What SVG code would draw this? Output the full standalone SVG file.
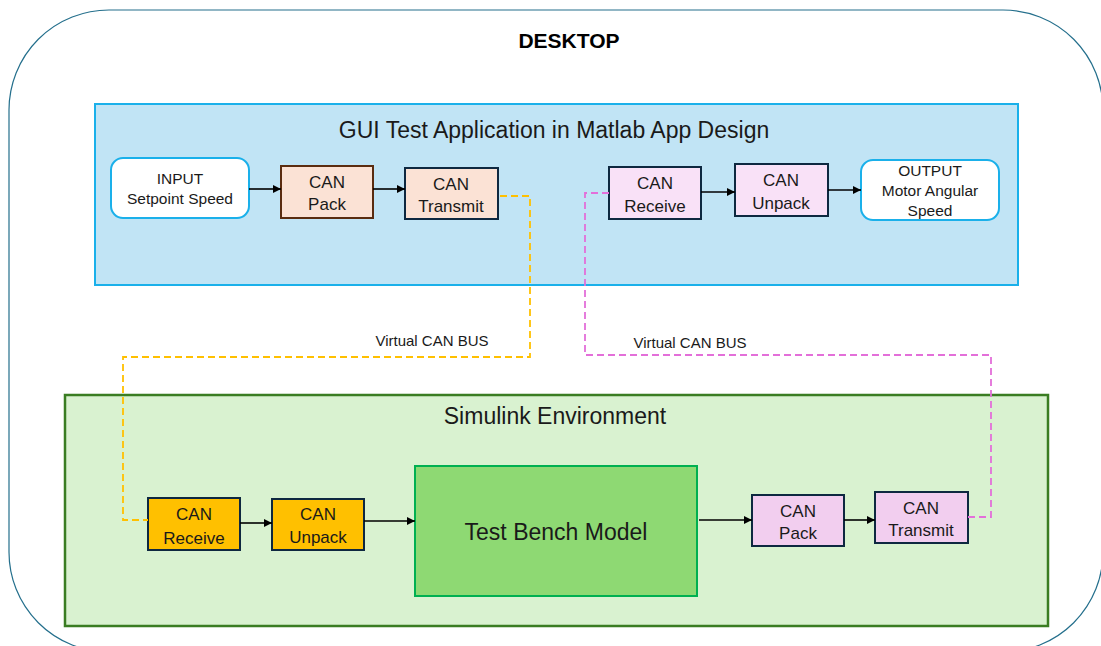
<svg xmlns="http://www.w3.org/2000/svg" width="1101" height="646" viewBox="0 0 1101 646">
<defs>
<marker id="ah" viewBox="0 0 10 10" refX="10" refY="5" markerWidth="8" markerHeight="8" markerUnits="userSpaceOnUse" orient="auto"><path d="M0,0 L10,5 L0,10 z" fill="#000"/></marker>
<style>
text{font-family:"Liberation Sans","Open Sans",sans-serif;fill:#1a1a1a;text-anchor:middle}
.t{font-size:17px}
.s{font-size:15.5px}
.blk{stroke:#0e2840;stroke-width:2}
.arr{stroke:#000;stroke-width:1.6;fill:none;marker-end:url(#ah)}
.dash{fill:none;stroke-width:1.8;stroke-dasharray:7 4}
</style>
</defs>
<rect width="1101" height="646" fill="#fff"/>
<g id="desktop">
<rect x="9" y="10" width="1094" height="642" rx="100" ry="100" fill="#fff" stroke="#246f8c" stroke-width="1.2"/>
<text x="569" y="48" style="font-size:21px;font-weight:bold;fill:#000">DESKTOP</text>
</g>
<g id="gui">
<rect x="95" y="104" width="923" height="181" fill="#c1e4f5" stroke="#1ab0ea" stroke-width="2"/>
<text x="554" y="138" style="font-size:23px">GUI Test Application in Matlab App Design</text>
</g>
<g id="simulink">
<rect x="65" y="395" width="983" height="231" fill="#d9f2d0" stroke="#3a7d22" stroke-width="2.5"/>
<text x="555" y="424" style="font-size:23px">Simulink Environment</text>
</g>
<g id="input">
<rect x="111" y="158" width="138" height="60" rx="12" fill="#fff" stroke="#1ab0ea" stroke-width="2"/>
<text class="s" x="180" y="184">INPUT</text>
<text class="s" x="180" y="204">Setpoint Speed</text>
</g>
<g id="gui-pack">
<rect x="281" y="166" width="92" height="52" fill="#fbe2d5" stroke="#5a2c10" stroke-width="2"/>
<text class="t" x="327" y="188">CAN</text>
<text class="t" x="327" y="210">Pack</text>
</g>
<g id="gui-transmit">
<rect class="blk" x="405" y="168" width="93" height="51" fill="#fbe2d5"/>
<text class="t" x="451" y="190">CAN</text>
<text class="t" x="451" y="212">Transmit</text>
</g>
<g id="gui-receive">
<rect class="blk" x="609" y="167" width="92" height="52" fill="#f9e1f7"/>
<text class="t" x="655" y="189">CAN</text>
<text class="t" x="655" y="212">Receive</text>
</g>
<g id="gui-unpack">
<rect class="blk" x="735" y="164" width="93" height="52" fill="#f9e1f7"/>
<text class="t" x="781" y="186">CAN</text>
<text class="t" x="781" y="209">Unpack</text>
</g>
<g id="output">
<rect x="861" y="160" width="138" height="60" rx="12" fill="#fff" stroke="#1ab0ea" stroke-width="2"/>
<text class="s" x="930" y="176">OUTPUT</text>
<text class="s" x="930" y="196">Motor Angular</text>
<text class="s" x="930" y="216">Speed</text>
</g>
<g id="sim-receive">
<rect class="blk" x="148" y="498" width="92" height="52" fill="#ffc000"/>
<text class="t" x="194" y="520">CAN</text>
<text class="t" x="194" y="544">Receive</text>
</g>
<g id="sim-unpack">
<rect class="blk" x="272" y="499" width="92" height="51" fill="#ffc000"/>
<text class="t" x="318" y="520">CAN</text>
<text class="t" x="318" y="543">Unpack</text>
</g>
<g id="testbench">
<rect x="415" y="466" width="282" height="130" fill="#8ed973" stroke="#00b050" stroke-width="2"/>
<text x="556" y="540" style="font-size:23px">Test Bench Model</text>
</g>
<g id="sim-pack">
<rect class="blk" x="752" y="495" width="92" height="51" fill="#f2ceef"/>
<text class="t" x="798" y="517">CAN</text>
<text class="t" x="798" y="539">Pack</text>
</g>
<g id="sim-transmit">
<rect class="blk" x="875" y="492" width="93" height="51" fill="#f2ceef"/>
<text class="t" x="921" y="514">CAN</text>
<text class="t" x="921" y="536">Transmit</text>
</g>
<g id="connectors">
<line class="arr" x1="249" y1="189" x2="281" y2="189"/>
<line class="arr" x1="373" y1="189" x2="405" y2="189"/>
<line class="arr" x1="701" y1="192" x2="735" y2="192"/>
<line class="arr" x1="828" y1="190" x2="861" y2="190"/>
<line class="arr" x1="240" y1="523" x2="272" y2="523"/>
<line class="arr" x1="364" y1="521" x2="415" y2="521"/>
<line class="arr" x1="699" y1="520" x2="752" y2="520"/>
<line class="arr" x1="844" y1="520" x2="875" y2="520"/>
<polyline class="dash" stroke="#ffc000" points="500,196 530,196 530,357 123,357 123,520 148,520"/>
<polyline class="dash" stroke="#e36fd9" points="609,193 585,193 585,355 991,355 991,517 968,517"/>
<text x="432" y="346" style="font-size:15px">Virtual CAN BUS</text>
<text x="690" y="348" style="font-size:15px">Virtual CAN BUS</text>
</g>
</svg>
